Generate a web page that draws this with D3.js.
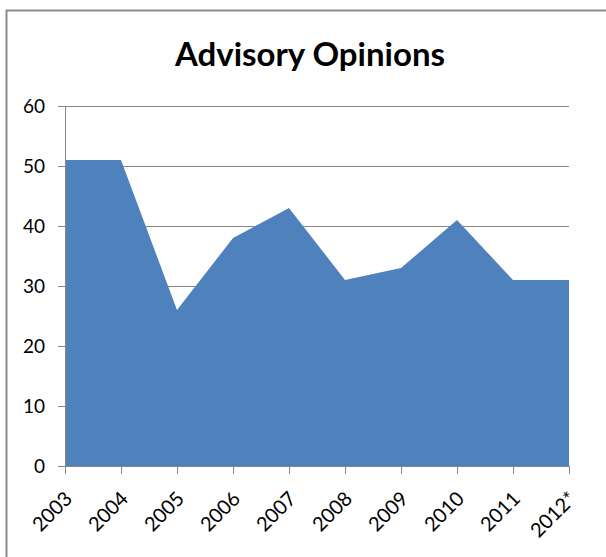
<!DOCTYPE html>
<html lang="en">
<head>
<meta charset="utf-8">
<script src="https://d3js.org/d3.v7.min.js"></script>
<style>
body { margin: 0; background: #fff; }
text { font-family: Lato, "Open Sans", sans-serif; fill: #000; }
</style>
</head>
<body>
<div id="chart"></div>
<script>
// data
var years = ["2003", "2004", "2005", "2006", "2007", "2008", "2009", "2010", "2011", "2012*"];
var opinions = [51, 51, 26, 38, 43, 31, 33, 41, 31, 31];
var yTicks = [0, 10, 20, 30, 40, 50, 60];

var W = 606, H = 557;
var margin = {top: 106, right: 37, bottom: 91, left: 65},
	width = W - margin.left - margin.right,
	height = H - margin.top - margin.bottom;

var root = d3.select("#chart").append("svg")
	.attr("width", W)
	.attr("height", H);

// chart border (only top/left visible in the crop)
root.append("rect")
	.attr("x", 6.5).attr("y", 10.5)
	.attr("width", W + 20).attr("height", H + 20)
	.attr("fill", "none")
	.attr("stroke", "#8c8c8c")
	.attr("stroke-width", 2);

root.append("text")
	.attr("x", 310)
	.attr("y", 66)
	.attr("text-anchor", "middle")
	.style("font-size", "33px")
	.style("font-weight", "bold")
	.text("Advisory Opinions");

var svg = root.append("g")
	.attr("transform", "translate(" + margin.left + "," + margin.top + ")");

var x = d3.scalePoint()
	.domain(years)
	.range([0, width]);

var y = d3.scaleLinear()
	.domain([0, 60])
	.range([height, 0]);

// gridlines
svg.append("g")
	.selectAll("line")
	.data(yTicks.slice(1))
	.enter()
	.append("line")
	.attr("x1", -7).attr("x2", width)
	.attr("y1", function (d) { return y(d) + 0.5; })
	.attr("y2", function (d) { return y(d) + 0.5; })
	.attr("stroke", "#868686");

// area
var area = d3.area()
	.x(function (d, i) { return x(years[i]); })
	.y0(height)
	.y1(function (d) { return y(d); });

svg.append("path")
	.datum(opinions)
	.attr("d", area)
	.attr("fill", "#4F81BD");

// y axis
var yAxis = svg.append("g")
	.call(d3.axisLeft(y).tickValues(yTicks).tickSize(7).tickPadding(13));
yAxis.selectAll("text").style("font-size", "19px").style("fill", "#000");
yAxis.selectAll("line").attr("stroke", "#868686");
yAxis.select(".domain").attr("stroke", "#868686").attr("d", "M0.5,0V" + height);

// x axis
var xAxis = svg.append("g")
	.attr("transform", "translate(0," + height + ")")
	.call(d3.axisBottom(x).tickSize(8));
xAxis.select(".domain").attr("stroke", "#868686").attr("d", "M0," + 0.5 + "H" + width);
xAxis.selectAll("line").attr("stroke", "#868686");
xAxis.selectAll("text")
	.style("font-size", "20px")
	.style("fill", "#000")
	.attr("text-anchor", "end")
	.attr("x", 0)
	.attr("y", 0)
	.attr("dy", "0.35em")
	.attr("transform", "translate(3,29) rotate(-45)");
</script>
</body>
</html>
